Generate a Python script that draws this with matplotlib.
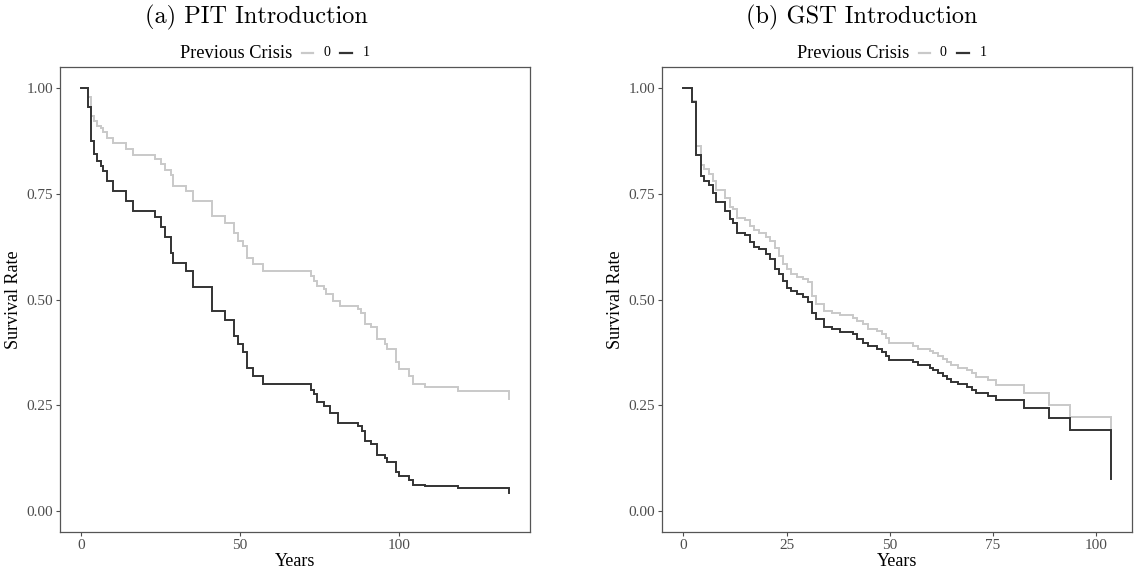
import matplotlib
matplotlib.use("Agg")
import matplotlib.pyplot as plt
from matplotlib.lines import Line2D

# ---------------- data ----------------
# Panel (a) PIT Introduction
pit_t_1 = [0, 2.0, 3.05, 4.1, 4.8, 6.1, 6.9, 8.0, 10.1, 14.1, 16.2, 23.2, 25.0, 26.3, 28.1, 28.9,
           33.1, 35.2, 41.2, 45.2, 48.0, 49.4, 50.9, 52.2, 54.1, 57.2, 72.2, 73.3, 74.3, 76.3,
           78.2, 81.0, 87.1, 88.5, 89.3, 91.3, 93.2, 95.5, 96.2, 99.2, 100.2, 103.1, 104.4,
           108.4, 118.6, 134.6]
pit_s_1 = [1.0, 0.956, 0.874, 0.845, 0.828, 0.816, 0.804, 0.781, 0.757, 0.733, 0.709, 0.694,
           0.672, 0.649, 0.609, 0.586, 0.568, 0.530, 0.473, 0.452, 0.414, 0.394, 0.376, 0.337,
           0.318, 0.299, 0.286, 0.276, 0.258, 0.248, 0.232, 0.209, 0.201, 0.189, 0.165, 0.159,
           0.132, 0.124, 0.115, 0.093, 0.082, 0.073, 0.061, 0.058, 0.054, 0.043]
pit_t_0 = [0, 2.0, 3.05, 4.1, 4.8, 6.1, 6.9, 8.0, 10.1, 14.1, 16.2, 23.2, 25.0, 26.3, 28.1, 28.9,
           33.1, 35.2, 41.2, 45.2, 48.0, 49.4, 50.9, 52.2, 54.1, 57.2, 72.2, 73.3, 74.3, 76.3,
           77.2, 79.2, 81.4, 87.1, 88.2, 89.2, 91.3, 93.2, 95.5, 96.2, 99.2, 100.2, 103.1, 104.4,
           108.4, 118.6, 134.6]
pit_s_0 = [1.0, 0.978, 0.934, 0.923, 0.911, 0.905, 0.897, 0.883, 0.870, 0.856, 0.841, 0.832,
           0.820, 0.807, 0.794, 0.769, 0.757, 0.733, 0.698, 0.682, 0.658, 0.639, 0.627, 0.599,
           0.583, 0.568, 0.556, 0.544, 0.532, 0.524, 0.512, 0.497, 0.485, 0.477, 0.469, 0.443,
           0.435, 0.406, 0.394, 0.384, 0.352, 0.335, 0.319, 0.299, 0.293, 0.284, 0.264]

# Panel (b) GST Introduction
gst_t = [0, 2.2, 3.1, 4.2, 5.0, 6.2, 7.2, 8.0, 10.0, 11.2, 12.1, 13.0, 15.0, 16.1, 17.1, 18.3,
         20.1, 21.1, 22.1, 23.1, 24.2, 25.1, 26.1, 27.5, 29.0, 30.1, 31.2, 32.2, 34.0, 36.0,
         38.0, 41.0, 42.1, 43.6, 44.8, 46.9, 48.1, 49.0, 49.9, 55.7, 56.8, 59.7, 60.5, 61.7,
         62.9, 63.8, 64.8, 66.6, 68.7, 69.8, 70.8, 73.7, 75.7, 82.5, 88.6, 93.6, 103.5]
gst_s_1 = [1.0, 0.968, 0.842, 0.792, 0.781, 0.771, 0.753, 0.731, 0.710, 0.690, 0.682, 0.658,
           0.653, 0.636, 0.625, 0.619, 0.607, 0.595, 0.572, 0.561, 0.544, 0.528, 0.519, 0.514,
           0.507, 0.493, 0.467, 0.453, 0.435, 0.430, 0.423, 0.418, 0.406, 0.398, 0.391, 0.382,
           0.376, 0.367, 0.356, 0.351, 0.344, 0.339, 0.333, 0.327, 0.319, 0.311, 0.305, 0.299,
           0.292, 0.286, 0.278, 0.272, 0.262, 0.244, 0.219, 0.191, 0.076]
gst_s_0 = [1.0, 0.970, 0.863, 0.818, 0.808, 0.796, 0.781, 0.759, 0.739, 0.718, 0.714, 0.692,
           0.688, 0.674, 0.665, 0.657, 0.649, 0.639, 0.623, 0.603, 0.583, 0.572, 0.560, 0.554,
           0.548, 0.542, 0.508, 0.489, 0.472, 0.467, 0.463, 0.457, 0.449, 0.441, 0.430, 0.426,
           0.418, 0.408, 0.396, 0.390, 0.384, 0.378, 0.373, 0.366, 0.359, 0.351, 0.344, 0.339,
           0.333, 0.325, 0.317, 0.309, 0.297, 0.278, 0.250, 0.221, 0.197]

titles = ["(a) PIT Introduction", "(b) GST Introduction"]
groups = ["0", "1"]
y_ticks = [0.0, 0.25, 0.5, 0.75, 1.0]
y_ticklabels = ["0.00", "0.25", "0.50", "0.75", "1.00"]
x_ticks_a = [0, 50, 100]
x_ticks_b = [0, 25, 50, 75, 100]

# ---------------- style ----------------
W, H = 1134, 571
C0 = "#C9C9C9"
C1 = "#333333"
SERIF = ["Liberation Serif", "DejaVu Serif"]
TITLE_FONT = ["cmr10", "DejaVu Serif"]
plt.rcParams["axes.formatter.use_mathtext"] = True

fig = plt.figure(figsize=(W / 100, H / 100), dpi=100)
fig.patch.set_facecolor("white")


def px_axes(left, right, top, bottom):
    return fig.add_axes([left / W, 1 - bottom / H, (right - left) / W, (bottom - top) / H])


ax_a = px_axes(60, 530, 67, 532)
ax_b = px_axes(662, 1132, 67, 532)

panels = [
    (ax_a, pit_t_0, pit_s_0, pit_t_1, pit_s_1, x_ticks_a),
    (ax_b, gst_t, gst_s_0, gst_t, gst_s_1, x_ticks_b),
]

for ax, t0, s0, t1, s1, xt in panels:
    ax.step(t0, s0, where="post", color=C0, lw=1.4, solid_joinstyle="miter")
    ax.step(t1, s1, where="post", color=C1, lw=1.4, solid_joinstyle="miter")
    tmax = max(max(t0), max(t1))
    pad = 0.05 * tmax
    ax.set_xlim(-pad, tmax + pad)
    ax.set_ylim(-0.05, 1.05)
    ax.set_xticks(xt)
    ax.set_xticklabels([str(v) for v in xt])
    ax.set_yticks(y_ticks)
    ax.set_yticklabels(y_ticklabels)
    for lab in ax.get_xticklabels() + ax.get_yticklabels():
        lab.set_fontfamily(SERIF)
        lab.set_fontsize(11)
        lab.set_color("#4D4D4D")
    ax.tick_params(direction="out", length=3, width=0.8, color="#4D4D4D", pad=2)
    for sp in ax.spines.values():
        sp.set_color("#555555")
        sp.set_linewidth(0.9)
    ax.set_xlabel("Years", fontfamily=SERIF, fontsize=13, color="black", labelpad=1)
    ax.set_ylabel("Survival Rate", fontfamily=SERIF, fontsize=13, color="black", labelpad=3)

# titles
fig.text(256 / W, 1 - 17 / H, titles[0], fontfamily=TITLE_FONT, fontsize=17.5,
         ha="center", va="center")
fig.text(862 / W, 1 - 17 / H, titles[1], fontfamily=TITLE_FONT, fontsize=17.5,
         ha="center", va="center")

# legends (top, horizontal)
def legend_at(x0):
    y = 1 - 53 / H
    fig.text(x0 / W, y, "Previous Crisis", fontfamily=SERIF, fontsize=13.2,
             ha="left", va="center")
    k0 = x0 + 122
    fig.add_artist(Line2D([k0 / W, (k0 + 11) / W], [y, y], color=C0, lw=1.6,
                          transform=fig.transFigure))
    fig.text((k0 + 21) / W, y, groups[0], fontfamily=SERIF, fontsize=10,
             ha="left", va="center")
    k1 = x0 + 160
    fig.add_artist(Line2D([k1 / W, (k1 + 12) / W], [y, y], color=C1, lw=1.6,
                          transform=fig.transFigure))
    fig.text((k1 + 23) / W, y, groups[1], fontfamily=SERIF, fontsize=10,
             ha="left", va="center")


legend_at(180)
legend_at(797)

fig.savefig("out.png", dpi=100, facecolor="white")
